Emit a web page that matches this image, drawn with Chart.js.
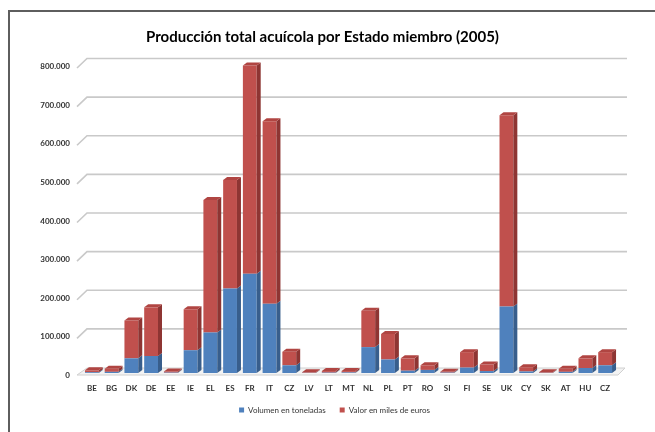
<!DOCTYPE html>
<html>
<head>
<meta charset="utf-8">
<script src="https://cdn.jsdelivr.net/npm/chart.js@4"></script>
<style>
  html, body { margin: 0; padding: 0; background: #fff; }
  #wrap { position: relative; width: 655px; height: 432px; overflow: hidden; }
  #frame { position: absolute; left: 8px; top: 10px; width: 700px; height: 500px; border: 2px solid #5e5e5e; }
  canvas { position: absolute; left: 0; top: 0; }
</style>
</head>
<body>
<div id="wrap">
  <div id="frame"></div>
  <canvas id="c" width="655" height="432"></canvas>
</div>
<script>
// Producción acuícola 2005 por Estado miembro
const titulo = 'Producción total acuícola por Estado miembro (2005)';

const paises = ['BE','BG','DK','DE','EE','IE','EL','ES','FR','IT','CZ','LV','LT','MT','NL','PL','PT','RO','SI','FI','SE','UK','CY','SK','AT','HU','CZ'];

// Volumen en toneladas
const volumen = [2000, 3000, 38000, 44000, 1000, 59000, 105000, 219000, 257000, 179000, 20000, 500, 1000, 1500,
                 67000, 35000, 6000, 8000, 1000, 14000, 5000, 172000, 4000, 500, 3000, 13000, 20000];

// Valor en miles de euros
const valor = [5000, 8000, 98000, 126000, 3000, 106000, 343000, 281000, 539000, 473000, 35000, 1500, 4000, 3500,
               94000, 66000, 32000, 12000, 2000, 40000, 17000, 495000, 11000, 1500, 8000, 25000, 34000];

const serieNombres = ['Volumen en toneladas', 'Valor en miles de euros'];
const yMax = 800000;
const yPaso = 100000;

const colores = {
  front: ['#4F81BD', '#C0504D'],
  side:  ['#385E8C', '#8E3533'],
  top:   ['#6A93C8', '#B04542']
};

const fmt = v => String(v).replace(/\B(?=(\d{3})+(?!\d))/g, '.');

// 3D depth of the columns and back wall
const DX = 4, DY = 3;
const MARGEN_IZQ = 14;

const fondo3d = {
  id: 'fondo3d',
  beforeDatasetsDraw(chart) {
    const { ctx, chartArea: a, scales: { y } } = chart;
    const y0 = y.getPixelForValue(0);
    ctx.save();
    // back-wall gridlines with their bent left end
    ctx.strokeStyle = '#c9c9c9';
    ctx.lineWidth = 1.6;
    y.ticks.forEach(t => {
      if (t.value === 0) return;
      const py = y.getPixelForValue(t.value);
      ctx.beginPath();
      ctx.moveTo(a.left - 5, py + 4);
      ctx.lineTo(a.left + 5, py - 5.5);
      ctx.lineTo(a.right + 12, py - 5.5);
      ctx.stroke();
    });
    // floor slab
    ctx.beginPath();
    ctx.moveTo(a.left - 5, y0 + 2);
    ctx.lineTo(a.left + 5, y0 - 5);
    ctx.lineTo(a.right + 10, y0 - 5);
    ctx.lineTo(a.right + 3, y0 + 2);
    ctx.closePath();
    ctx.fillStyle = '#f3f3f3';
    ctx.fill();
    ctx.strokeStyle = '#d0d0d0';
    ctx.lineWidth = 1;
    ctx.stroke();
    ctx.restore();
  },
  afterDatasetsDraw(chart) {
    const { ctx } = chart;
    const metas = chart.data.datasets.map((d, i) => chart.getDatasetMeta(i));
    ctx.save();
    const n = chart.data.labels.length;
    for (let i = 0; i < n; i++) {
      let topEl = null, topIdx = 0;
      metas.forEach((meta, di) => {
        const el = meta.data[i];
        if (!el) return;
        const p = el.getProps(['x', 'y', 'base', 'width'], true);
        const r = p.x + p.width / 2;
        // right side face
        ctx.beginPath();
        ctx.moveTo(r, p.y);
        ctx.lineTo(r + DX, p.y - DY);
        ctx.lineTo(r + DX, p.base - DY);
        ctx.lineTo(r, p.base);
        ctx.closePath();
        ctx.fillStyle = colores.side[di];
        ctx.fill();
        if (Math.abs(p.base - p.y) > 0.2) { topEl = p; topIdx = di; }
      });
      if (topEl) {
        const l = topEl.x - topEl.width / 2, r = topEl.x + topEl.width / 2;
        ctx.beginPath();
        ctx.moveTo(l, topEl.y);
        ctx.lineTo(l + DX, topEl.y - DY);
        ctx.lineTo(r + DX, topEl.y - DY);
        ctx.lineTo(r, topEl.y);
        ctx.closePath();
        ctx.fillStyle = colores.top[topIdx];
        ctx.fill();
      }
    }
    ctx.restore();
  },
  // chart heading, centred on the page
  afterDraw(chart) {
    const { ctx } = chart;
    ctx.save();
    ctx.font = 'bold 15px Lato';
    ctx.fillStyle = '#000';
    ctx.textAlign = 'center';
    ctx.textBaseline = 'middle';
    ctx.fillText(titulo, chart.width / 2 - 5, 37);
    ctx.restore();
  }
};

new Chart(document.getElementById('c'), {
  type: 'bar',
  data: {
    labels: paises,
    datasets: [
      { label: serieNombres[0], data: volumen, backgroundColor: colores.front[0], borderWidth: 0 },
      { label: serieNombres[1], data: valor, backgroundColor: colores.front[1], borderWidth: 0 }
    ]
  },
  options: {
    responsive: false,
    animation: false,
    layout: { padding: { left: MARGEN_IZQ, right: 0, top: 64, bottom: 8 } },
    datasets: { bar: { categoryPercentage: 1.0, barPercentage: 0.7 } },
    plugins: {
      title: { display: false },
      legend: {
        position: 'bottom',
        labels: {
          color: '#333',
          font: { family: 'Lato', size: 8 },
          boxWidth: 5,
          boxHeight: 5,
          padding: 14
        }
      },
      tooltip: { enabled: false }
    },
    scales: {
      x: {
        stacked: true,
        grid: { display: false, drawTicks: false },
        border: { display: false },
        ticks: {
          color: '#333',
          font: { family: 'Lato', size: 8, weight: 'bold' },
          padding: 11,
          maxRotation: 0,
          autoSkip: false
        },
        afterFit: s => { s.height = 19; }
      },
      y: {
        stacked: true,
        min: 0,
        max: yMax,
        grid: { display: false, drawTicks: false },
        border: { display: false },
        ticks: {
          stepSize: yPaso,
          color: '#333',
          font: { family: 'Lato', size: 8, weight: 'bold' },
          padding: 12,
          labelOffset: 2.5,
          callback: v => fmt(v)
        },
        afterFit: s => { s.width = 82 - MARGEN_IZQ; }
      },
      derecha: {
        position: 'right',
        display: true,
        grid: { display: false, drawTicks: false },
        border: { display: false },
        ticks: { display: false },
        afterFit: s => { s.width = 40; }
      }
    }
  },
  plugins: [fondo3d]
});
</script>
</body>
</html>
